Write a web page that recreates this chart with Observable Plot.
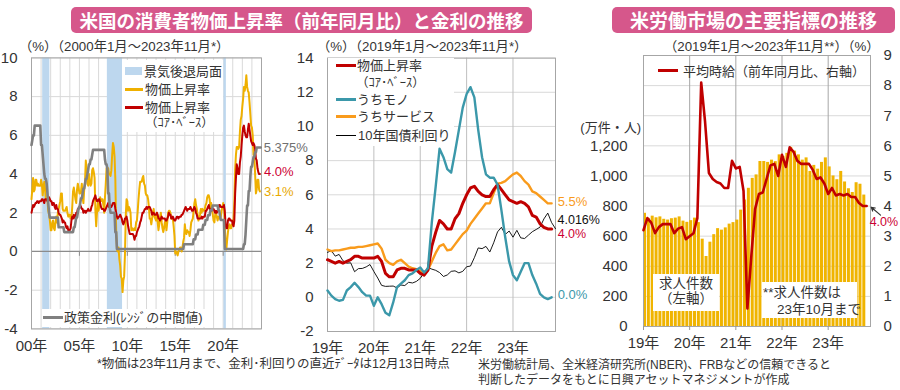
<!DOCTYPE html>
<html><head><meta charset="utf-8">
<script src="https://cdn.jsdelivr.net/npm/d3@7"></script>
<script src="https://cdn.jsdelivr.net/npm/@observablehq/plot@0.6"></script>
<style>
body{margin:0;background:#fff;}
#root{position:relative;width:900px;height:390px;overflow:hidden;font-family:'Liberation Sans',Arial,'Noto Sans CJK JP',sans-serif;color:#333;}
.p{position:absolute;top:0;}
.t{position:absolute;white-space:nowrap;line-height:1;transform:translateY(-50%);font-size:13px;}
.c{transform:translate(-50%,-50%);}
.sw{position:absolute;}
.box{position:absolute;background:#fff;}
.title{position:absolute;background:#d6578b;color:#fff;font-weight:bold;border-radius:5px;text-align:center;height:26px;line-height:26px;font-family:'Noto Sans CJK JP',sans-serif;white-space:nowrap;overflow:hidden;}
</style></head>
<body><div id="root">
<div id="p1" class="p" style="left:0"></div>
<div id="p2" class="p" style="left:290px"></div>
<div id="p3" class="p" style="left:590px"></div>

<div class="title" style="left:71px;top:7px;width:461px;font-size:18.5px">米国の消費者物価上昇率（前年同月比）と金利の推移</div>
<div class="title" style="left:612px;top:7px;width:283px;font-size:19px">米労働市場の主要指標の推移</div>

<div class="t" style="left:19px;top:46.5px;font-size:13.3px">（%）（2000年1月～2023年11月*）</div>
<div class="t" style="left:317px;top:46.5px;font-size:13.3px">（%）（2019年1月～2023年11月*）</div>
<div class="t" style="left:664px;top:46.5px;font-size:13.3px">（2019年1月～2023年11月**）（%）</div>
<div class="t" style="right:259px;top:127px;font-size:13px">(万件・人)</div>

<!-- panel 1 legends -->
<div class="box" style="left:122px;top:60px;width:101px;height:72px"></div>
<div class="sw" style="left:125px;top:67px;width:17px;height:8px;background:#bdd7ee"></div>
<div class="t" style="left:144px;top:71px">景気後退局面</div>
<div class="sw" style="left:125px;top:87.5px;width:18px;height:3px;background:#efb000"></div>
<div class="t" style="left:145px;top:89px">物価上昇率</div>
<div class="sw" style="left:125px;top:105.5px;width:18px;height:3px;background:#c00000"></div>
<div class="t" style="left:145px;top:107px">物価上昇率</div>
<div class="t" style="left:145px;top:123px;font-size:12.5px">（ｺｱ･ﾍﾞｰｽ）</div>
<div class="box" style="left:42px;top:309px;width:163px;height:18px"></div>
<div class="sw" style="left:43px;top:315.5px;width:20px;height:3px;background:#808080"></div>
<div class="t" style="left:64px;top:317px">政策金利(ﾚﾝｼﾞの中間値)</div>

<!-- panel 2 legend -->
<div class="box" style="left:328px;top:58px;width:126px;height:88px"></div>
<div class="sw" style="left:336px;top:63.5px;width:20px;height:3.5px;background:#c00000"></div>
<div class="t" style="left:357px;top:65px">物価上昇率</div>
<div class="t" style="left:356px;top:83px;font-size:12.5px">（ｺｱ･ﾍﾞｰｽ）</div>
<div class="sw" style="left:336px;top:97.5px;width:20px;height:3px;background:#3b98aa"></div>
<div class="t" style="left:357px;top:99px">うちモノ</div>
<div class="sw" style="left:336px;top:114.5px;width:20px;height:3px;background:#f99b1c"></div>
<div class="t" style="left:357px;top:116px">うちサービス</div>
<div class="sw" style="left:336px;top:134.5px;width:20px;height:1px;background:#000"></div>
<div class="t" style="left:358px;top:135px">10年国債利回り</div>

<!-- panel 3 legend and notes -->
<div class="sw" style="left:658px;top:68.5px;width:20px;height:3.5px;background:#c00000"></div>
<div class="t" style="left:683px;top:71px">平均時給（前年同月比、右軸）</div>
<div class="box" style="left:653px;top:274px;width:66px;height:37px"></div>
<div class="t c" style="left:686px;top:284px;font-size:13.5px">求人件数</div>
<div class="t c" style="left:686px;top:299px;font-size:13.5px">（左軸）</div>
<div class="box" style="left:762px;top:282px;width:95px;height:36px"></div>
<div class="t" style="left:763px;top:293px;font-size:13.5px">**求人件数は</div>
<div class="t" style="left:777px;top:310px;font-size:13.5px">23年10月まで</div>

<!-- footnotes -->
<div class="t" style="left:97px;top:364px;font-size:12.5px">*物価は23年11月まで、金利･利回りの直近ﾃﾞｰﾀは12月13日時点</div>
<div class="t" style="left:478px;top:365px;font-size:12px">米労働統計局、全米経済研究所(NBER)、FRBなどの信頼できると</div>
<div class="t" style="left:478px;top:380px;font-size:12px">判断したデータをもとに日興アセットマネジメントが作成</div>
</div>
<script>
// ---------- DATA ----------
// Panel 1: monthly, Jan 2000 - Nov 2023 (YoY %)
const cpiYoY = [
2.7,3.2,3.8,3.1,3.2,3.7,3.7,3.4,3.5,3.4,3.4,3.4,
3.7,3.5,2.9,3.3,3.6,3.2,2.7,2.7,2.6,2.1,1.9,1.6,
1.1,1.1,1.5,1.6,1.2,1.1,1.5,1.8,1.5,2.0,2.2,2.4,
2.6,3.0,3.0,2.2,2.1,2.1,2.1,2.2,2.3,2.0,1.8,1.9,
1.9,1.7,1.7,2.3,3.1,3.3,3.0,2.7,2.5,3.2,3.5,3.3,
3.0,3.0,3.1,3.5,2.8,2.5,3.2,3.6,4.7,4.3,3.5,3.4,
4.0,3.6,3.4,3.5,4.2,4.3,4.1,3.8,2.1,1.3,2.0,2.5,
2.1,2.4,2.8,2.6,2.7,2.7,2.4,2.0,2.8,3.5,4.3,4.1,
4.3,4.0,4.0,3.9,4.2,5.0,5.6,5.4,4.9,3.7,1.1,0.1,
0.0,0.2,-0.4,-0.7,-1.3,-1.4,-2.1,-1.5,-1.3,-0.2,1.8,2.7,
2.6,2.1,2.3,2.2,2.0,1.1,1.2,1.1,1.1,1.2,1.1,1.5,
1.6,2.1,2.7,3.2,3.6,3.6,3.6,3.8,3.9,3.5,3.4,3.0,
2.9,2.9,2.7,2.3,1.7,1.7,1.4,1.7,2.0,2.2,1.8,1.7,
1.6,2.0,1.5,1.1,1.4,1.8,2.0,1.5,1.2,1.0,1.2,1.5,
1.6,1.1,1.5,2.0,2.1,2.1,2.0,1.7,1.7,1.7,1.3,0.8,
-0.1,0.0,-0.1,-0.2,0.0,0.1,0.2,0.2,0.0,0.2,0.5,0.7,
1.4,1.0,0.9,1.1,1.0,1.0,0.8,1.1,1.5,1.6,1.7,2.1,
2.5,2.7,2.4,2.2,1.9,1.6,1.7,1.9,2.2,2.0,2.2,2.1,
2.1,2.2,2.4,2.5,2.8,2.9,2.9,2.7,2.3,2.5,2.2,1.9,
1.6,1.5,1.9,2.0,1.8,1.6,1.8,1.7,1.7,1.8,2.1,2.3,
2.5,2.3,1.5,0.3,0.1,0.6,1.0,1.3,1.4,1.2,1.2,1.4,
1.4,1.7,2.6,4.2,5.0,5.4,5.4,5.3,5.4,6.2,6.8,7.0,
7.5,7.9,8.5,8.3,8.6,9.1,8.5,8.3,8.2,7.7,7.1,6.5,
6.4,6.0,5.0,4.9,4.0,3.0,3.2,3.7,3.7,3.2,3.1];
const coreYoY = [
2.0,2.2,2.4,2.3,2.4,2.5,2.5,2.6,2.6,2.5,2.6,2.6,
2.6,2.7,2.7,2.6,2.5,2.7,2.7,2.7,2.6,2.6,2.8,2.7,
2.6,2.6,2.4,2.5,2.5,2.3,2.2,2.4,2.2,2.2,2.0,1.9,
1.9,1.8,1.7,1.5,1.6,1.5,1.5,1.3,1.2,1.3,1.1,1.1,
1.1,1.2,1.6,1.8,1.7,1.9,1.8,1.7,2.0,2.0,2.2,2.2,
2.3,2.4,2.3,2.2,2.2,2.0,2.1,2.1,2.0,2.1,2.1,2.2,
2.1,2.1,2.1,2.3,2.4,2.6,2.7,2.8,2.9,2.7,2.6,2.6,
2.7,2.7,2.5,2.3,2.2,2.2,2.2,2.1,2.1,2.2,2.3,2.4,
2.5,2.3,2.4,2.3,2.3,2.4,2.5,2.5,2.5,2.2,2.0,1.8,
1.7,1.8,1.8,1.9,1.8,1.7,1.5,1.4,1.5,1.7,1.7,1.8,
1.6,1.3,1.1,0.9,0.9,0.9,0.9,0.9,0.8,0.6,0.8,0.8,
1.0,1.1,1.2,1.3,1.5,1.6,1.8,2.0,2.0,2.1,2.2,2.2,
2.3,2.2,2.3,2.3,2.3,2.2,2.1,1.9,2.0,2.0,1.9,1.9,
1.9,2.0,1.9,1.7,1.7,1.6,1.7,1.8,1.7,1.7,1.7,1.7,
1.6,1.6,1.7,1.8,2.0,1.9,1.9,1.7,1.7,1.8,1.7,1.6,
1.6,1.7,1.8,1.8,1.7,1.8,1.8,1.8,1.9,1.9,2.0,2.1,
2.2,2.3,2.2,2.1,2.2,2.2,2.2,2.3,2.2,2.1,2.1,2.2,
2.3,2.2,2.0,1.9,1.7,1.7,1.7,1.7,1.7,1.8,1.7,1.8,
1.8,1.8,2.1,2.1,2.2,2.3,2.4,2.2,2.2,2.1,2.2,2.2,
2.2,2.1,2.0,2.1,2.0,2.1,2.2,2.4,2.4,2.3,2.3,2.3,
2.3,2.4,2.1,1.4,1.2,1.2,1.6,1.7,1.7,1.6,1.6,1.6,
1.4,1.3,1.6,3.0,3.8,4.5,4.3,4.0,4.0,4.6,4.9,5.5,
6.0,6.4,6.5,6.2,6.0,5.9,5.9,6.3,6.6,6.3,6.0,5.7,
5.6,5.5,5.6,5.5,5.3,4.8,4.7,4.3,4.1,4.0,4.0];
// Fed funds target (midpoint), Jan 2000 - Dec 2023
const policyRate = [
5.5,5.75,6,6,6.5,6.5,6.5,6.5,6.5,6.5,6.5,6.5,
5.5,5.5,5,4.5,4,3.75,3.75,3.5,3,2.5,2,1.75,
1.75,1.75,1.75,1.75,1.75,1.75,1.75,1.75,1.75,1.75,1.25,1.25,
1.25,1.25,1.25,1.25,1.25,1,1,1,1,1,1,1,
1,1,1,1,1,1.25,1.25,1.5,1.75,1.75,2,2.25,
2.25,2.5,2.75,2.75,3,3.25,3.25,3.5,3.75,3.75,4,4.25,
4.5,4.5,4.75,4.75,5,5.25,5.25,5.25,5.25,5.25,5.25,5.25,
5.25,5.25,5.25,5.25,5.25,5.25,5.25,5.25,4.75,4.5,4.5,4.25,
3,3,2.25,2,2,2,2,2,2,1,1,0.125,
0.125,0.125,0.125,0.125,0.125,0.125,0.125,0.125,0.125,0.125,0.125,0.125,
0.125,0.125,0.125,0.125,0.125,0.125,0.125,0.125,0.125,0.125,0.125,0.125,
0.125,0.125,0.125,0.125,0.125,0.125,0.125,0.125,0.125,0.125,0.125,0.125,
0.125,0.125,0.125,0.125,0.125,0.125,0.125,0.125,0.125,0.125,0.125,0.125,
0.125,0.125,0.125,0.125,0.125,0.125,0.125,0.125,0.125,0.125,0.125,0.125,
0.125,0.125,0.125,0.125,0.125,0.125,0.125,0.125,0.125,0.125,0.125,0.125,
0.125,0.125,0.125,0.125,0.125,0.125,0.125,0.125,0.125,0.125,0.125,0.375,
0.375,0.375,0.375,0.375,0.375,0.375,0.375,0.375,0.375,0.375,0.375,0.625,
0.625,0.625,0.875,0.875,0.875,1.125,1.125,1.125,1.125,1.125,1.125,1.375,
1.375,1.375,1.625,1.625,1.625,1.875,1.875,1.875,2.125,2.125,2.125,2.375,
2.375,2.375,2.375,2.375,2.375,2.375,2.125,2.125,1.875,1.625,1.625,1.625,
1.625,1.625,0.125,0.125,0.125,0.125,0.125,0.125,0.125,0.125,0.125,0.125,
0.125,0.125,0.125,0.125,0.125,0.125,0.125,0.125,0.125,0.125,0.125,0.125,
0.125,0.125,0.375,0.375,0.875,1.625,2.375,2.375,3.125,3.125,3.875,4.375,
4.375,4.625,4.875,4.875,5.125,5.125,5.375,5.375,5.375,5.375,5.375,5.375];
const recessions = [[2001,3,2001,11],[2007,12,2009,6],[2020,2,2020,4]];
const p1TickYears = [2000,2005,2010,2015,2020];
const p1TickLabels = ["00年","05年","10年","15年","20年"];
const p1YTicks = [-4,-2,0,2,4,6,8,10];

// Panel 2: monthly Jan 2019 - Nov 2023 (core goods / core services), 10y yield to Dec 13 2023
const coreGoodsYoY = [
0.4,0.1,-0.1,-0.2,-0.15,0.4,0.6,0.85,0.6,0.3,0.1,0.1,
-0.5,0.0,-0.4,-0.9,-1.05,-0.3,0.6,0.8,1.0,1.3,1.4,1.6,
1.75,1.45,1.7,4.4,6.5,8.7,8.2,7.5,7.3,8.5,9.8,11.1,
11.9,12.3,11.7,9.8,8.2,7.2,7.0,7.0,6.6,5.1,3.5,2.1,
1.3,1.0,1.5,2.0,2.0,1.3,0.8,0.2,0.0,-0.1,0.0];
const coreServicesYoY = [
2.8,2.7,2.75,2.75,2.8,2.85,2.9,2.9,2.95,2.95,3.0,3.05,
3.1,3.15,2.85,2.2,2.0,1.9,2.1,2.2,2.0,1.8,1.7,1.65,
1.55,1.3,1.6,2.1,2.6,3.0,3.1,2.75,2.8,3.1,3.4,3.7,
3.9,4.3,4.6,4.9,5.2,5.5,5.5,6.1,6.65,6.7,6.8,7.0,
7.2,7.3,7.1,6.8,6.6,6.2,6.1,5.9,5.7,5.5,5.5];
const yield10y = [
2.63,2.73,2.41,2.51,2.14,2.00,2.02,1.50,1.68,1.69,1.78,1.92,
1.51,1.13,0.70,0.64,0.65,0.66,0.55,0.72,0.69,0.88,0.84,0.93,
1.11,1.44,1.74,1.65,1.58,1.45,1.22,1.31,1.52,1.55,1.43,1.52,
1.79,1.83,2.32,2.89,2.85,2.98,2.65,3.19,3.83,4.10,3.68,3.88,
3.52,3.92,3.48,3.44,3.64,3.84,3.97,4.11,4.59,4.93,4.37,4.016];
const yearStartIdx = [0,12,24,36,48];
const yearLabels = ["19年","20年","21年","22年","23年"];
const p2YTicks = [-2,0,2,4,6,8,10,12,14];

// Panel 3: job openings (10k), Jan 2019 - Oct 2023; avg hourly earnings YoY %, Jan 2019 - Nov 2023
const jobOpenings = [
752,718,733,722,728,712,707,716,720,728,700,692,
703,720,690,580,465,560,610,650,640,655,680,690,
707,773,840,918,984,1007,1096,1096,1090,1105,1095,1140,
1130,1150,1190,1165,1140,1105,1120,1030,1070,1045,1090,1120,
1060,1000,975,1030,960,915,890,955,945,873];
const hourlyEarningsYoY = [
3.2,3.6,3.45,3.1,3.3,3.4,3.4,3.4,3.1,3.25,3.3,2.9,
3.0,3.1,3.6,8.1,6.8,5.1,4.9,4.8,4.75,4.6,4.6,5.5,
5.25,5.3,4.5,0.6,2.3,3.9,4.4,4.45,4.9,5.35,5.4,5.0,
5.7,5.3,5.95,5.8,5.5,5.4,5.4,5.4,5.2,4.9,4.95,4.75,
4.4,4.6,4.35,4.4,4.35,4.4,4.3,4.3,4.1,4.0,4.0];
const p3RightTicks = [0,1,2,3,4,5,6,7,8,9];
const p3LeftTicks = [0,200,400,600,800,1000,1200];
const jobsPerRightUnit = 200;

// ---------- COLORS ----------
const GOLD = "#efb000", RED = "#c00000", GRAY = "#808080", TEAL = "#3b98aa", ORANGE = "#f99b1c";
const LBLRED = "#cc0033";
const FONT = "'Liberation Sans', Arial, 'Noto Sans CJK JP', sans-serif";
const baseStyle = {fontFamily: FONT, fontSize: "15px", color: "#333", background: "transparent", overflow: "visible"};

// ---------- PANEL 1 ----------
const t1 = i => 2000 + i / 12;
const cpiData = cpiYoY.map((v, i) => ({x: t1(i), v}));
const coreData = coreYoY.map((v, i) => ({x: t1(i), v}));
const policyData = policyRate.map((v, i) => ({x: t1(i), v}));
const recData = recessions.map(([y1, m1, y2, m2]) => ({x1: y1 + (m1 - 1) / 12, x2: y2 + m2 / 12}));
const gridYears1 = d3.range(2001, 2024);
const last = a => a[a.length - 1];

const p1 = Plot.plot({
  width: 290, height: 390,
  marginLeft: 31, marginRight: 29, marginTop: 57.4, marginBottom: 61.6,
  style: baseStyle,
  x: {domain: [2000, 2024], axis: null},
  y: {domain: [-4, 10], axis: null},
  marks: [
    Plot.ruleX(gridYears1, {stroke: "#d9d9d9"}),
    Plot.ruleY(p1YTicks, {stroke: "#d9d9d9"}),
    Plot.rect(recData, {x1: "x1", x2: "x2", fill: "#bdd7ee"}),
    Plot.ruleY([0], {stroke: "#8c8c8c", strokeWidth: 1.2}),
    Plot.ruleX(p1TickYears, {y1: () => 0, y2: () => -0.25, stroke: "#8c8c8c"}),
    Plot.frame({stroke: "#a6a6a6"}),
    Plot.line(cpiData, {x: "x", y: "v", stroke: GOLD, strokeWidth: 2}),
    Plot.line(coreData, {x: "x", y: "v", stroke: RED, strokeWidth: 2}),
    Plot.line(policyData, {x: "x", y: "v", stroke: GRAY, strokeWidth: 2.6}),
    Plot.axisY(p1YTicks, {label: null, tickSize: 0, tickPadding: 14, fontSize: 15, tickFormat: d => String(d)}),
    Plot.axisX(p1TickYears, {label: null, tickSize: 0, tickPadding: 11, fontSize: 15, tickFormat: d => p1TickLabels[p1TickYears.indexOf(d)]}),
    Plot.text([last(policyData)], {x: "x", y: "v", text: d => d.v + "%", dx: 3, textAnchor: "start", fill: "#707070", fontSize: 13}),
    Plot.text([last(coreData)], {x: "x", y: "v", text: d => d.v.toFixed(1) + "%", dx: 4, dy: -2.5, textAnchor: "start", fill: LBLRED, fontSize: 13}),
    Plot.text([last(cpiData)], {x: "x", y: "v", text: d => d.v.toFixed(1) + "%", dx: 4, textAnchor: "start", fill: "#e8a800", fontSize: 13})
  ]
});
document.getElementById("p1").append(p1);

// ---------- PANEL 2 ----------
const core19 = coreYoY.slice(19 * 12).map((v, i) => ({i, v}));
const goods = coreGoodsYoY.map((v, i) => ({i, v}));
const services = coreServicesYoY.map((v, i) => ({i, v}));
const y10 = yield10y.map((v, i) => ({i, v}));

const p2 = Plot.plot({
  width: 300, height: 390,
  marginLeft: 37, marginRight: 35, marginTop: 57.6, marginBottom: 59,
  style: baseStyle,
  x: {domain: [0, 59], axis: null},
  y: {domain: [-2, 14], axis: null},
  marks: [
    Plot.ruleY(p2YTicks, {stroke: "#d9d9d9"}),
    Plot.ruleX(yearStartIdx.slice(1), {stroke: "#bfbfbf"}),
    Plot.frame({stroke: "#a6a6a6"}),
    Plot.line(y10, {x: "i", y: "v", stroke: "#000", strokeWidth: 0.9}),
    Plot.line(services, {x: "i", y: "v", stroke: ORANGE, strokeWidth: 2.4}),
    Plot.line(core19, {x: "i", y: "v", stroke: RED, strokeWidth: 3}),
    Plot.line(goods, {x: "i", y: "v", stroke: TEAL, strokeWidth: 2.4}),
    Plot.axisY(p2YTicks, {label: null, tickSize: 0, tickPadding: 14, fontSize: 15, tickFormat: d => String(d)}),
    Plot.axisX(yearStartIdx, {label: null, tickSize: 0, tickPadding: 10.5, fontSize: 15, tickFormat: d => yearLabels[yearStartIdx.indexOf(d)]}),
    Plot.text([last(services)], {x: "i", y: "v", text: d => d.v.toFixed(1) + "%", dx: 6, dy: -2, textAnchor: "start", fill: ORANGE, fontSize: 13}),
    Plot.text([last(y10)], {x: "i", y: "v", text: d => d.v.toFixed(3) + "%", dx: 2, dy: -8.5, textAnchor: "start", fill: "#111", fontSize: 12.5}),
    Plot.text([last(core19)], {x: "i", y: "v", text: d => d.v.toFixed(1) + "%", dx: 6, dy: 5.5, textAnchor: "start", fill: LBLRED, fontSize: 12.5}),
    Plot.text([last(goods)], {x: "i", y: "v", text: d => d.v.toFixed(1) + "%", dx: 6, dy: -2, textAnchor: "start", fill: TEAL, fontSize: 13})
  ]
});
document.getElementById("p2").append(p2);

// ---------- PANEL 3 ----------
const jobs = jobOpenings.map((v, i) => ({i, v}));
const wages = hourlyEarningsYoY.map((v, i) => ({i, v}));
const wLast = last(wages);

const p3 = Plot.plot({
  width: 310, height: 390,
  marginLeft: 53, marginRight: 30, marginTop: 55, marginBottom: 64,
  style: baseStyle,
  x: {domain: [0, 59], axis: null},
  y: {domain: [0, 9], axis: null},
  marks: [
    Plot.ruleY(p3RightTicks.slice(1, -1), {stroke: "#d9d9d9"}),
    Plot.ruleX(yearStartIdx.slice(1), {stroke: "#a6a6a6"}),
    Plot.rect(jobs, {x1: d => d.i, x2: d => d.i + 0.78, y1: () => 0, y2: d => d.v / jobsPerRightUnit, fill: "#f0b400"}),
    Plot.frame({stroke: "#a6a6a6"}),
    Plot.line(wages, {x: "i", y: "v", stroke: RED, strokeWidth: 2.6, strokeLinejoin: "round"}),
    Plot.axisY(p3LeftTicks.map(v => v / jobsPerRightUnit), {label: null, anchor: "left", tickSize: 0, tickPadding: 16, fontSize: 15, tickFormat: d => d3.format(",")(Math.round(d * jobsPerRightUnit))}),
    Plot.axisY(p3RightTicks, {label: null, anchor: "right", tickSize: 0, tickPadding: 13, fontSize: 15, tickFormat: d => String(d)}),
    Plot.axisX(yearStartIdx, {label: null, tickSize: 4, tickPadding: 7, fontSize: 15, stroke: "#999", tickFormat: d => yearLabels[yearStartIdx.indexOf(d)]}),
    Plot.arrow([wLast], {x1: d => d.i + 3.6, y1: d => d.v - 0.3, x2: d => d.i + 1.2, y2: d => d.v - 0.04, stroke: "#333", strokeWidth: 1.2, headLength: 6}),
    Plot.text([wLast], {x: "i", y: "v", text: d => d.v.toFixed(1) + "%", dx: 3, dy: 15.5, textAnchor: "start", fill: LBLRED, fontSize: 12.5})
  ]
});
document.getElementById("p3").append(p3);
</script>
</body></html>
